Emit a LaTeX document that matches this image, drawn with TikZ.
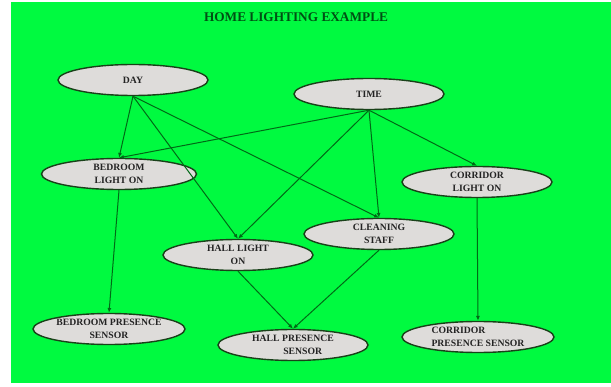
\documentclass[tikz,border=0pt]{standalone}
\usepackage{fontspec}
\setmainfont{Liberation Serif}
\usetikzlibrary{arrows.meta,shapes.geometric}
\usepackage{xcolor}
\definecolor{bggreen}{RGB}{0,250,64}
\definecolor{nodegray}{RGB}{222,220,218}
\definecolor{edgegreen}{RGB}{0,105,22}
\definecolor{rimgreen}{RGB}{25,65,25}
\definecolor{inkgray}{RGB}{35,35,35}
\definecolor{titlegreen}{RGB}{0,80,20}
\tikzset{
	state/.style={draw=rimgreen, line width=1.4pt, ellipse, fill=nodegray, minimum width=150pt, minimum height=31pt, inner sep=0pt, align=center, text=inkgray, font=\bfseries\fontsize{9.7}{13}\selectfont},
	link/.style={draw=edgegreen, line width=1pt, -{Latex[length=1.7mm,width=1.4mm]}}
}

\begin{document}
\begin{tikzpicture}[x=1pt, y=-1pt]
	\fill[white] (0, 0) rectangle (611, 387);
	\fill[bggreen] (11, 2) rectangle (611, 383);
	\node (title) [font=\bfseries\fontsize{13.3}{15}\selectfont, text=titlegreen] at (296, 17) {HOME LIGHTING EXAMPLE};
	\node (day) [state] at (133, 80) {DAY};
	\node (time) [state] at (369, 94) {TIME};
	\node (bedroom) [state, minimum width=155pt] at (119, 174) {BEDROOM\\LIGHT ON};
	\node (corridor) [state] at (477, 182) {CORRIDOR\\LIGHT ON};
	\node (cleaning) [state] at (379, 234) {CLEANING\\STAFF};
	\node (hall) [state] at (238, 255) {HALL LIGHT\\ON};
	\node (bedsensor) [state, minimum width=152pt] at (109, 329) {BEDROOM PRESENCE\\SENSOR};
	\node (hallsensor) [state] at (293, 345) {HALL PRESENCE\\\hspace*{2em}SENSOR};
	\node (corrsensor) [state, align=left, minimum width=152pt] at (478, 337) {CORRIDOR\\PRESENCE SENSOR};
	\draw[link] (day.south) -- (bedroom.north);
	\draw[link] (day.south) -- (hall.north);
	\draw[link] (day.south) -- (cleaning.north);
	\draw[link] (time.south) -- (bedroom.north);
	\draw[link] (time.south) -- (hall.north);
	\draw[link] (time.south) -- (cleaning.north);
	\draw[link] (time.south) -- (corridor.north);
	\draw[link] (bedroom.south) -- (bedsensor.north);
	\draw[link] (hall.south) -- (hallsensor.north);
	\draw[link] (cleaning.south) -- (hallsensor.north);
	\draw[link] (corridor.south) -- (corrsensor.north);
\end{tikzpicture}
\end{document}
